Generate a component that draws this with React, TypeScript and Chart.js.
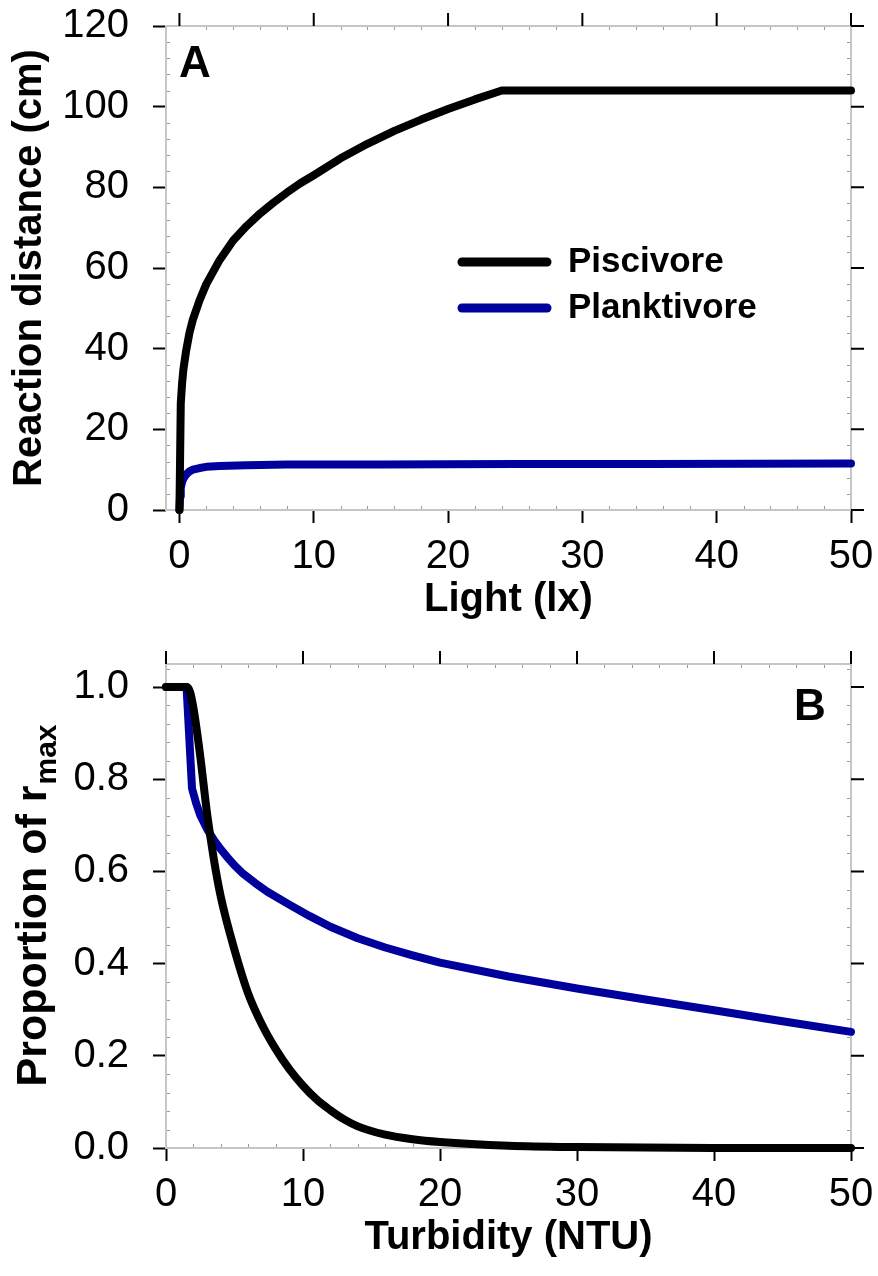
import React, { useEffect, useRef } from "react";
import { Chart, registerables } from "chart.js";

Chart.register(...registerables);

// ---------- Panel A data: reaction distance vs light ----------
const lightPiscivore = [0, 0.1, 0.2, 0.3, 0.5, 0.75, 1, 1.5, 2, 3, 4, 5, 6, 7, 8, 9, 10, 12, 14, 16, 18, 20, 22, 24, 30, 40, 50];
const reactionPiscivore = [0, 26.5, 31.5, 35, 39.5, 44, 47.2, 52, 56, 62, 66.8, 70.4, 73.5, 76.2, 78.7, 81, 83, 87.2, 90.8, 94, 96.8, 99.4, 101.8, 104, 104, 104, 104];
const lightPlanktivore = [0, 0.05, 0.1, 0.2, 0.3, 0.5, 0.75, 1, 1.5, 2, 3, 5, 8, 15, 25, 35, 50];
const reactionPlanktivore = [0, 3.5, 5.5, 7, 7.8, 8.8, 9.6, 10.0, 10.4, 10.7, 10.9, 11.1, 11.3, 11.3, 11.4, 11.4, 11.5];

// ---------- Panel B data: proportion of r_max vs turbidity ----------
const turbPiscivore = [0, 1.5, 1.75, 2, 2.5, 3, 3.5, 4, 5, 6, 7, 8, 9, 10, 11, 12, 13, 14, 16, 18, 20, 25, 30, 40, 50];
const propPiscivore = [1, 1, 0.99, 0.955, 0.85, 0.725, 0.625, 0.545, 0.43, 0.335, 0.268, 0.215, 0.171, 0.135, 0.105, 0.082, 0.062, 0.047, 0.029, 0.019, 0.013, 0.005, 0.002, 0, 0];
const turbPlanktivore = [0, 1.5, 1.9, 2.2, 2.5, 3, 3.5, 4, 4.5, 5, 5.6, 6.5, 7.4, 9, 10.5, 12, 14, 16, 18, 20, 25, 30, 35, 40, 45, 50];
const propPlanktivore = [1, 1, 0.78, 0.748, 0.722, 0.692, 0.668, 0.648, 0.63, 0.613, 0.596, 0.575, 0.556, 0.528, 0.503, 0.48, 0.455, 0.435, 0.418, 0.402, 0.372, 0.346, 0.322, 0.299, 0.275, 0.252];

// ---------- Axis ticks ----------
const xMajorTicks = [0, 10, 20, 30, 40, 50];
const xMinorTicks = [2, 4, 6, 8, 12, 14, 16, 18, 22, 24, 26, 28, 32, 34, 36, 38, 42, 44, 46, 48];
const yMajorTicksA = [0, 20, 40, 60, 80, 100, 120];
const yMinorTicksA = [4, 8, 12, 16, 24, 28, 32, 36, 44, 48, 52, 56, 64, 68, 72, 76, 84, 88, 92, 96, 104, 108, 112, 116];
const yMajorTicksB = [0, 0.2, 0.4, 0.6, 0.8, 1.0];
const yMinorTicksB = [0.04, 0.08, 0.12, 0.16, 0.24, 0.28, 0.32, 0.36, 0.44, 0.48, 0.52, 0.56, 0.64, 0.68, 0.72, 0.76, 0.84, 0.88, 0.92, 0.96, 1.04];

const seriesNames = ["Piscivore", "Planktivore"];
const seriesColors = ["#000000", "#00009c"];

const FONT = "'Liberation Sans', Arial, Helvetica, sans-serif";

const toPoints = (xs: number[], ys: number[]) => xs.map((x, i) => ({ x, y: ys[i] }));

const zeroPadding = (s: any) => {
  s.paddingTop = 0;
  s.paddingBottom = 0;
  s.paddingLeft = 0;
  s.paddingRight = 0;
};

const decorPlugin = {
  id: "decor",
  beforeDatasetsDraw(chart: any, _args: any, opts: any) {
    const { ctx, chartArea } = chart;
    const { left, right, top, bottom } = chartArea;
    const xs = chart.scales.x;
    const ys = chart.scales.y;
    ctx.save();
    // minor ticks (inward)
    ctx.strokeStyle = "#9a9a9a";
    ctx.lineWidth = 1;
    ctx.beginPath();
    for (const v of opts.xMinor) {
      const px = Math.round(xs.getPixelForValue(v)) + 0.5;
      ctx.moveTo(px, bottom);
      ctx.lineTo(px, bottom - 4);
      ctx.moveTo(px, top);
      ctx.lineTo(px, top + 4);
    }
    for (const v of opts.yMinor) {
      const py = Math.round(ys.getPixelForValue(v)) + 0.5;
      ctx.moveTo(left, py);
      ctx.lineTo(left + 4, py);
      ctx.moveTo(right, py);
      ctx.lineTo(right - 4, py);
    }
    ctx.stroke();
    // frame
    ctx.strokeStyle = "#c6c6c6";
    ctx.lineWidth = 2;
    ctx.strokeRect(left, top, right - left, bottom - top);
    // outward major ticks on top and right
    ctx.strokeStyle = "#000";
    ctx.lineWidth = 2;
    ctx.beginPath();
    for (const v of opts.xMajor) {
      const px = xs.getPixelForValue(v);
      ctx.moveTo(px, top);
      ctx.lineTo(px, top - 13);
    }
    for (const v of opts.yMajor) {
      const py = ys.getPixelForValue(v);
      ctx.moveTo(right, py);
      ctx.lineTo(right + 13, py);
    }
    ctx.stroke();
    ctx.restore();
  },
  afterDraw(chart: any, _args: any, opts: any) {
    const { ctx, chartArea } = chart;
    ctx.save();
    ctx.fillStyle = "#000";
    ctx.textBaseline = "middle";
    ctx.textAlign = "left";
    ctx.font = `bold 44px ${FONT}`;
    ctx.fillText(opts.letter, opts.letterX, opts.letterY);

    if (opts.legend) {
      chart.data.datasets.forEach((ds: any, i: number) => {
        const y = 262 + i * 46;
        ctx.strokeStyle = ds.borderColor;
        ctx.lineWidth = 9;
        ctx.lineCap = "round";
        ctx.beginPath();
        ctx.moveTo(462, y);
        ctx.lineTo(547, y);
        ctx.stroke();
        ctx.fillStyle = "#000";
        ctx.font = `bold 35px ${FONT}`;
        ctx.fillText(ds.label, 568, y);
      });
    }

    if (opts.yTitleMain) {
      const cy = (chartArea.top + chartArea.bottom) / 2;
      const mainFont = `bold 43px ${FONT}`;
      const subFont = `bold 30px ${FONT}`;
      ctx.font = mainFont;
      const w1 = ctx.measureText(opts.yTitleMain).width;
      ctx.font = subFont;
      const w2 = ctx.measureText(opts.yTitleSub).width;
      const total = w1 + w2;
      ctx.translate(31, cy);
      ctx.rotate(-Math.PI / 2);
      ctx.textAlign = "left";
      ctx.textBaseline = "alphabetic";
      ctx.font = mainFont;
      ctx.fillText(opts.yTitleMain, -total / 2, 15);
      ctx.font = subFont;
      ctx.fillText(opts.yTitleSub, -total / 2 + w1 + 1, 25);
    }
    ctx.restore();
  },
};

function makeConfig(panel: "A" | "B"): any {
  const isA = panel === "A";
  const datasets = (isA
    ? [toPoints(lightPiscivore, reactionPiscivore), toPoints(lightPlanktivore, reactionPlanktivore)]
    : [toPoints(turbPiscivore, propPiscivore), toPoints(turbPlanktivore, propPlanktivore)]
  ).map((data, i) => ({
    label: seriesNames[i],
    data,
    borderColor: seriesColors[i],
    backgroundColor: seriesColors[i],
    borderWidth: 8,
    pointRadius: 0,
    fill: false,
    tension: 0,
    cubicInterpolationMode: !isA && i === 0 ? "monotone" : "default",
    borderJoinStyle: "round",
    borderCapStyle: "round",
    clip: false,
  }));
  const yMajor = isA ? yMajorTicksA : yMajorTicksB;
  return {
    type: "line",
    data: { datasets },
    options: {
      animation: false,
      responsive: false,
      devicePixelRatio: 1,
      layout: { padding: { top: 26, right: 27, left: 0, bottom: 0 } },
      plugins: {
        legend: { display: false },
        tooltip: { enabled: false },
        decor: {
          xMajor: xMajorTicks,
          xMinor: xMinorTicks,
          yMajor,
          yMinor: isA ? yMinorTicksA : yMinorTicksB,
          letter: panel,
          letterX: isA ? 179 : 794,
          letterY: isA ? 65 : 70,
          legend: isA,
          yTitleMain: isA ? null : "Proportion of r",
          yTitleSub: "max",
        },
      },
      scales: {
        x: {
          type: "linear",
          position: "bottom",
          min: isA ? -1 : 0,
          max: 50,
          afterBuildTicks: (s: any) => {
            s.ticks = xMajorTicks.map((v) => ({ value: v }));
          },
          afterFit: (s: any) => {
            s.height = 128;
            zeroPadding(s);
          },
          ticks: {
            color: "#000",
            font: { family: FONT, size: 40 },
            padding: 10,
            maxRotation: 0,
            autoSkip: false,
          },
          grid: {
            display: true,
            drawOnChartArea: false,
            drawTicks: true,
            tickLength: 13,
            tickWidth: 2,
            tickColor: "#000",
            color: "#000",
          },
          border: { display: false },
          title: {
            display: true,
            text: isA ? "Light (lx)" : "Turbidity (NTU)",
            color: "#000",
            font: { family: FONT, size: 40, weight: "bold" },
            padding: { top: 0, bottom: 14 },
          },
        },
        y: {
          type: "linear",
          position: "left",
          min: 0,
          max: isA ? 120 : 1.05,
          afterBuildTicks: (s: any) => {
            s.ticks = yMajor.map((v) => ({ value: v }));
          },
          afterFit: (s: any) => {
            s.width = 166;
            zeroPadding(s);
          },
          ticks: {
            color: "#000",
            font: { family: FONT, size: 40 },
            padding: 24,
            autoSkip: false,
            callback: (v: any) => (isA ? String(v) : Number(v).toFixed(1)),
          },
          grid: {
            display: true,
            drawOnChartArea: false,
            drawTicks: true,
            tickLength: 13,
            tickWidth: 2,
            tickColor: "#000",
            color: "#000",
          },
          border: { display: false },
          title: {
            display: isA,
            text: "Reaction distance (cm)",
            color: "#000",
            font: { family: FONT, size: 40, weight: "bold" },
            padding: { top: 6, bottom: 0 },
          },
        },
      },
    },
    plugins: [decorPlugin],
  };
}

export default function App() {
  const topRef = useRef<HTMLCanvasElement>(null);
  const botRef = useRef<HTMLCanvasElement>(null);

  useEffect(() => {
    const c1 = new Chart(topRef.current as HTMLCanvasElement, makeConfig("A"));
    const c2 = new Chart(botRef.current as HTMLCanvasElement, makeConfig("B"));
    return () => {
      c1.destroy();
      c2.destroy();
    };
  }, []);

  return (
    <div style={{ position: "absolute", left: 0, top: 0, width: 878, height: 1276, background: "#fff" }}>
      <div style={{ position: "absolute", left: 0, top: 0, width: 878, height: 638 }}>
        <canvas ref={topRef} width={878} height={638} style={{ display: "block" }} />
      </div>
      <div style={{ position: "absolute", left: 0, top: 638, width: 878, height: 638 }}>
        <canvas ref={botRef} width={878} height={638} style={{ display: "block" }} />
      </div>
    </div>
  );
}
